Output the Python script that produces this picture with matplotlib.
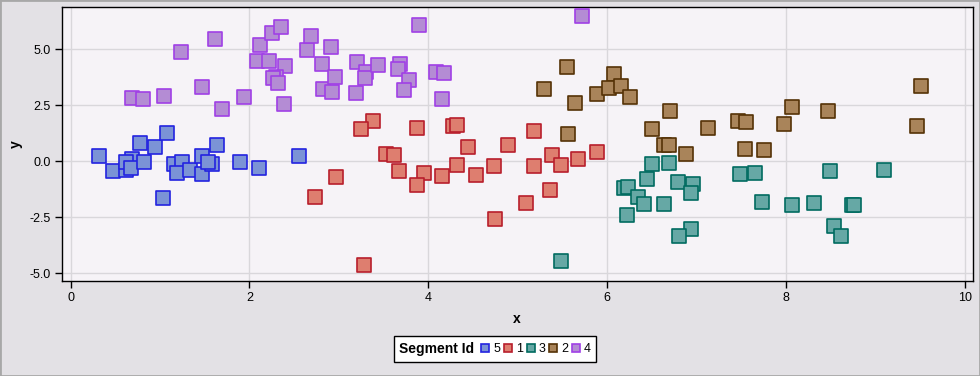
import matplotlib
matplotlib.use("Agg")
import matplotlib.pyplot as plt
from matplotlib.lines import Line2D
from matplotlib.patches import Rectangle
from matplotlib.offsetbox import HPacker

plt.rcParams['font.family'] = ['Liberation Sans', 'DejaVu Sans']

seg_ids = ["5", "1", "3", "2", "4"]

x5 = [0.32, 0.47, 0.62, 0.69, 0.62, 0.68, 0.82, 0.78, 0.95, 1.08, 1.03, 1.16, 1.25, 1.19,
      1.34, 1.47, 1.47, 1.58, 1.54, 1.64, 1.90, 2.11, 2.56]
y5 = [0.22, -0.45, -0.39, 0.09, -0.04, -0.31, -0.04, 0.80, 0.64, 1.25, -1.65, -0.12, -0.02, -0.54,
      -0.39, 0.25, -0.57, -0.13, -0.03, 0.71, -0.05, -0.31, 0.24]

x1 = [2.74, 2.97, 3.38, 3.25, 3.28, 3.53, 3.62, 3.67, 3.88, 3.95, 3.87, 4.16, 4.28, 4.32,
      4.32, 4.45, 4.53, 4.74, 4.75, 4.89, 5.09, 5.18, 5.18, 5.36, 5.39, 5.49, 5.68, 5.89]
y1 = [-1.61, -0.71, 1.79, 1.43, -4.64, 0.31, 0.27, -0.45, 1.47, -0.54, -1.07, -0.67, 1.56, 1.61,
      -0.18, 0.63, -0.63, -0.22, -2.59, 0.71, -1.88, 1.34, -0.22, -1.29, 0.27, -0.18, 0.09, 0.40]

x3 = [5.49, 6.19, 6.24, 6.35, 6.41, 6.22, 6.50, 6.69, 6.45, 6.64, 6.79, 6.96, 6.94, 6.94,
      6.81, 7.49, 7.66, 7.73, 8.07, 8.31, 8.50, 8.54, 8.62, 8.74, 8.76, 9.10]
y3 = [-4.46, -1.21, -1.16, -1.61, -1.92, -2.41, -0.13, -0.09, -0.80, -1.92, -0.94, -1.03, -1.43, -3.04,
      -3.35, -0.58, -0.54, -1.83, -1.96, -1.88, -0.45, -2.90, -3.35, -1.96, -1.96, -0.40]

x2 = [5.30, 5.55, 5.64, 5.56, 5.89, 6.08, 6.02, 6.16, 6.26, 6.50, 6.70, 6.64, 6.69, 6.88,
      7.13, 7.47, 7.55, 7.54, 7.76, 7.98, 8.07, 8.47, 9.51, 9.47]
y2 = [3.21, 4.20, 2.59, 1.21, 2.99, 3.88, 3.26, 3.35, 2.86, 1.43, 2.23, 0.71, 0.71, 0.31,
      1.47, 1.79, 1.74, 0.54, 0.49, 1.65, 2.41, 2.23, 3.35, 1.56]

x4 = [0.69, 0.81, 1.05, 1.24, 1.47, 1.62, 1.69, 1.94, 2.12, 2.09, 2.22, 2.25, 2.35, 2.40,
      2.30, 2.27, 2.32, 2.39, 2.64, 2.69, 2.81, 2.82, 2.91, 2.96, 2.93, 3.20, 3.30, 3.29,
      3.19, 3.44, 3.68, 3.66, 3.79, 3.73, 3.90, 4.09, 4.18, 4.15, 5.72]
y4 = [2.81, 2.77, 2.90, 4.87, 3.30, 5.46, 2.32, 2.86, 5.18, 4.46, 4.46, 5.71, 5.98, 4.24,
      3.78, 3.70, 3.48, 2.54, 4.97, 5.58, 4.33, 3.21, 5.09, 3.75, 3.08, 4.42, 3.97, 3.71,
      3.04, 4.29, 4.33, 4.11, 3.62, 3.17, 6.07, 3.97, 3.93, 2.77, 6.47]

xs = [x5, x1, x3, x2, x4]
ys = [y5, y1, y3, y2, y4]
fills = ["#7B93D6", "#DE7E6F", "#66A8A5", "#A9845A", "#B48CD4"]
edges = ["#2323E0", "#B81E2C", "#006B60", "#553206", "#A040E6"]

xticks = [0, 2, 4, 6, 8, 10]
yticks = [-5.0, -2.5, 0.0, 2.5, 5.0]
ytick_labels = ["-5.0", "-2.5", "0.0", "2.5", "5.0"]

fig = plt.figure(figsize=(9.8, 3.76), dpi=100, facecolor="#E3E1E5")
ax = fig.add_axes([0.063, 0.2527, 0.9295, 0.7279])
ax.set_facecolor("#F6F3F7")

for xv, yv, fc, ec in zip(xs, ys, fills, edges):
    ax.scatter(xv, yv, s=90, marker="s", facecolor=fc, edgecolor=ec, linewidths=1.2, zorder=3)

ax.set_xlim(-0.098, 10.09)
ax.set_ylim(-5.34, 6.875)
ax.set_xticks(xticks)
ax.set_xticklabels([str(t) for t in xticks])
ax.set_yticks(yticks)
ax.set_yticklabels(ytick_labels)
ax.grid(True, color="#D9D7DB", linewidth=1.0, zorder=0)
ax.set_axisbelow(True)
for sp in ax.spines.values():
    sp.set_color("black")
    sp.set_linewidth(1.0)
ax.tick_params(direction="out", length=5, width=1, labelsize=9, colors="black", pad=3)
ax.set_xlabel("x", fontsize=10, fontweight="bold", labelpad=6)
ax.set_ylabel("y", fontsize=10, fontweight="bold", labelpad=5)

handles = [Line2D([], [], marker="s", linestyle="none", markersize=6,
                  markerfacecolor=fc, markeredgecolor=ec, markeredgewidth=1.2)
           for fc, ec in zip(fills, edges)]
leg = fig.legend(handles, seg_ids, loc="center", bbox_to_anchor=(0.505, 0.072),
                 ncol=5, title="Segment Id", fontsize=9, frameon=True, fancybox=False,
                 edgecolor="black", facecolor="white", handlelength=0.65, handletextpad=0.3,
                 columnspacing=0.3, borderpad=0.45, framealpha=1.0)
leg.get_title().set_fontweight("bold")
leg.get_title().set_fontsize(10)
leg.get_frame().set_linewidth(1.0)
# put title inline to the left of entries
try:
    lb = leg._legend_box
    newbox = HPacker(pad=lb.pad, sep=5, align="center",
                     children=[leg._legend_title_box, leg._legend_handle_box])
    newbox.set_figure(fig)
    newbox.set_offset(leg._findoffset)
    leg._legend_box = newbox
except Exception:
    pass

fig.patches.append(Rectangle((0, 0), 1, 1, transform=fig.transFigure, fill=False,
                             edgecolor="#A8A8A8", linewidth=2.0))

fig.savefig("out.png", dpi=100, facecolor=fig.get_facecolor())
